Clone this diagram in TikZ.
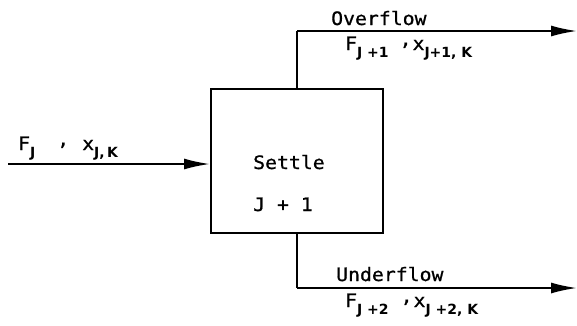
\documentclass[tikz,border=0pt]{standalone}
\usepackage{fontspec}
\usetikzlibrary{arrows.meta, positioning}
\newfontfamily\monofont[FakeStretch=1.07, FakeBold=0.8]{DejaVu Sans Mono}
\newfontfamily\subsfont{DejaVu Sans}
\newcommand{\lsub}[1]{\raisebox{-0.42em}{\subsfont\bfseries\fontsize{14}{14}\selectfont #1}}
\newcommand{\rcomma}{\raisebox{0.25em}{,}}

\begin{document}
\begin{tikzpicture}[
    x=1pt, y=-1pt,
    unit/.style={draw, line width=2pt, minimum width=172pt, minimum height=144pt, inner sep=0pt},
    flow/.style={line width=2pt, -{Latex[length=26pt, width=11pt]}},
    line/.style={line width=2pt},
    lbl/.style={anchor=base west, inner sep=0pt, font=\monofont\fontsize{18.5}{20}\selectfont},
]
\useasboundingbox (0,0) rectangle (577,325);

% settler stage
\node[unit] (settle) at (297,161) {};
\node[lbl] (name) at (253,169) {Settle};
\node[lbl] (stage) at (253,211) {J + 1};

% feed stream
\coordinate (feed) at (8,164);
\draw[flow] (feed) -- (settle.west |- feed);
\node[lbl] (feedlbl) at (18,150) {F\lsub{J}\hspace{22pt}\rcomma\hspace{13pt}x\lsub{J,\,K}};

% overflow stream
\coordinate (ovtop) at (297,31);
\coordinate (ovend) at (577,31);
\draw[line] (settle.north -| ovtop) -- (ovtop);
\draw[flow] (ovtop) -- (ovend);
\node[lbl] (ovname) at (331,25) {Overflow};
\node[lbl] (ovlbl) at (345,50) {F\lsub{J +1}\hspace{11pt}\rcomma\hspace{1pt}x\lsub{J+1, K}};

% underflow stream
\coordinate (unbot) at (297,288);
\coordinate (unend) at (577,288);
\draw[line] (settle.south -| unbot) -- (unbot);
\draw[flow] (unbot) -- (unend);
\node[lbl] (unname) at (336,281) {Underflow};
\node[lbl] (unlbl) at (345,307) {F\lsub{J +2}\hspace{12pt}\rcomma\hspace{1pt}x\lsub{J +2, K}};

\end{tikzpicture}
\end{document}
